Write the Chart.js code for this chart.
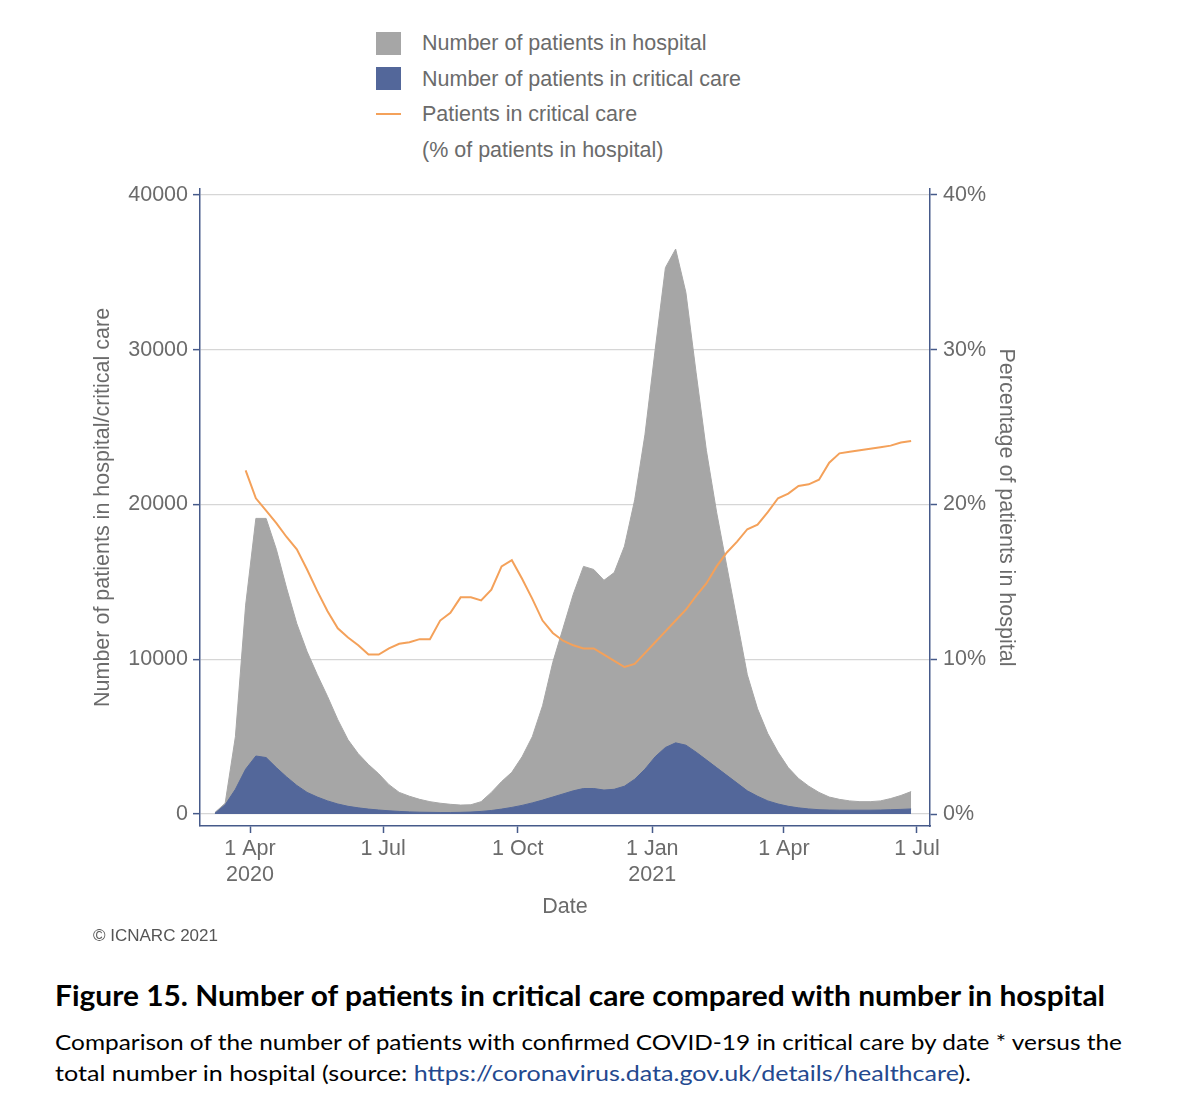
<!DOCTYPE html>
<html>
<head>
<meta charset="utf-8">
<script src="https://cdn.jsdelivr.net/npm/chart.js@4.4.1/dist/chart.umd.min.js"></script>
<style>
  body { margin: 0; background: #fff; width: 1200px; height: 1093px; position: relative; overflow: hidden;
         font-family: "Liberation Sans", Arial, sans-serif; }
  #wrap { position: absolute; left: 0; top: 170px; width: 1200px; height: 790px; }
  .leg { position: absolute; left: 422px; font-size: 21.5px; line-height: 24px; color: #6b6b6b; white-space: nowrap; }
  .sw { position: absolute; left: 376px; width: 25px; height: 23px; }
  .fit { position: absolute; left: 55px; white-space: nowrap; transform-origin: 0 50%; display: inline-block;
         font-family: Lato, "Open Sans", sans-serif; color: #000; }
  #copy { position: absolute; left: 93px; top: 926px; font-size: 17px; line-height: 20px; color: #555; }
  a { color: #24498f; text-decoration: none; }
</style>
</head>
<body>
<!-- legend -->
<div class="sw" style="top:32px;background:#a6a6a6"></div>
<div class="leg" style="top:31px">Number of patients in hospital</div>
<div class="sw" style="top:67px;background:#53679a"></div>
<div class="leg" style="top:67px">Number of patients in critical care</div>
<div style="position:absolute;left:376px;top:113px;width:25px;height:2px;background:#f4a15a"></div>
<div class="leg" style="top:102px">Patients in critical care</div>
<div class="leg" style="top:138px">(% of patients in hospital)</div>

<div id="wrap"><canvas id="chart" width="1200" height="790"></canvas></div>

<div id="copy">© ICNARC 2021</div>
<div class="fit" data-w="1050" style="top:980px;font-size:28px;line-height:30px;font-weight:700">Figure 15. Number of patients in critical care compared with number in hospital</div>
<div class="fit" data-w="1067" style="top:1030px;font-size:22px;line-height:24px">Comparison of the number of patients with confirmed COVID-19 in critical care by date * versus the</div>
<div class="fit" data-w="916" style="top:1061px;font-size:22px;line-height:24px">total number in hospital (source: <a href="#">https://coronavirus.data.gov.uk/details/healthcare</a>).</div>

<script>
/* ------------------- DATA ------------------- */
const weeks = [
  "2020-03-08","2020-03-15","2020-03-22","2020-03-29","2020-04-05","2020-04-12","2020-04-19","2020-04-26",
  "2020-05-03","2020-05-10","2020-05-17","2020-05-24","2020-05-31","2020-06-07","2020-06-14","2020-06-21",
  "2020-06-28","2020-07-05","2020-07-12","2020-07-19","2020-07-26","2020-08-02","2020-08-09","2020-08-16",
  "2020-08-23","2020-08-30","2020-09-06","2020-09-13","2020-09-20","2020-09-27","2020-10-04","2020-10-11",
  "2020-10-18","2020-10-25","2020-11-01","2020-11-08","2020-11-15","2020-11-22","2020-11-29","2020-12-06",
  "2020-12-13","2020-12-20","2020-12-27","2021-01-03","2021-01-10","2021-01-17","2021-01-24","2021-01-31",
  "2021-02-07","2021-02-14","2021-02-21","2021-02-28","2021-03-07","2021-03-14","2021-03-21","2021-03-28",
  "2021-04-04","2021-04-11","2021-04-18","2021-04-25","2021-05-02","2021-05-09","2021-05-16","2021-05-23",
  "2021-05-30","2021-06-06","2021-06-13","2021-06-20","2021-06-27"
];

const hospital = [
  100, 700, 5000, 13500, 19100, 19100, 17100, 14600, 12300, 10500, 9000, 7600, 6100, 4800, 3900, 3200,
  2600, 1900, 1400, 1150, 950, 800, 700, 630, 580, 600, 800, 1400, 2100, 2700, 3700, 5000,
  7000, 9800, 12000, 14200, 16000, 15800, 15100, 15600, 17300, 20300, 24500, 30000, 35300, 36500, 33700, 28500,
  23500, 19500, 16000, 12500, 9000, 6800, 5200, 4000, 3000, 2300, 1800, 1400, 1100, 950, 850, 800,
  800, 850, 1000, 1200, 1450
];

const criticalCare = [
  50, 600, 1600, 2900, 3750, 3650, 3000, 2400, 1850, 1400, 1100, 850, 650, 500, 400, 320,
  260, 210, 170, 140, 120, 110, 100, 100, 110, 130, 170, 230, 320, 430, 560, 720,
  900, 1100, 1300, 1500, 1650, 1650, 1550, 1600, 1800, 2250, 2900, 3700, 4300, 4600, 4450, 4000,
  3500, 3000, 2500, 2000, 1500, 1150, 850, 650, 500, 400, 330, 280, 260, 250, 250, 250,
  250, 260, 280, 300, 330
];

// % of hospital patients in critical care
const pctCritical = [
  null, null, null, 22.2, 20.4, 19.6, 18.8, 17.9, 17.1, 15.8, 14.4, 13.1, 12.0, 11.4, 10.9, 10.3,
  10.3, 10.7, 11.0, 11.1, 11.3, 11.3, 12.5, 13.0, 14.0, 14.0, 13.8, 14.5, 16.0, 16.4, 15.2, 13.9,
  12.5, 11.7, 11.2, 10.9, 10.7, 10.7, 10.3, 9.9, 9.5, 9.7, 10.4, 11.1, 11.8, 12.5, 13.2, 14.1,
  14.9, 16.0, 16.9, 17.6, 18.4, 18.7, 19.5, 20.4, 20.7, 21.2, 21.3, 21.6, 22.7, 23.3, 23.4, 23.5,
  23.6, 23.7, 23.8, 24.0, 24.1
];

const xTickDates = ["2020-04-01", "2020-07-01", "2020-10-01", "2021-01-01", "2021-04-01", "2021-07-01"];
const xTickLabels = [["1 Apr", "2020"], ["1 Jul"], ["1 Oct"], ["1 Jan", "2021"], ["1 Apr"], ["1 Jul"]];
const leftTicks = [0, 10000, 20000, 30000, 40000];
const rightTicks = [0, 10, 20, 30, 40];

/* ------------------- STYLE ------------------- */
const NAVY = "#465a8a";
const LABEL = "#6b6b6b";
const FONT = { family: "'Liberation Sans', Arial, sans-serif", size: 21.5 };

const dayNum = s => (Date.parse(s) - Date.parse("2020-01-01")) / 864e5;
const pts = arr => arr.map((v, i) => ({ x: dayNum(weeks[i]), y: v }));

new Chart(document.getElementById("chart"), {
  type: "line",
  data: {
    datasets: [
      {
        label: "Patients in critical care (% of patients in hospital)",
        data: pts(pctCritical),
        yAxisID: "y1",
        borderColor: "#f4a15a",
        borderWidth: 2,
        pointRadius: 0,
        fill: false,
        order: 0
      },
      {
        label: "Number of patients in critical care",
        data: pts(criticalCare),
        yAxisID: "y",
        borderColor: "#53679a",
        backgroundColor: "#53679a",
        borderWidth: 1,
        pointRadius: 0,
        fill: "origin",
        order: 1
      },
      {
        label: "Number of patients in hospital",
        data: pts(hospital),
        yAxisID: "y",
        borderColor: "#a6a6a6",
        backgroundColor: "#a6a6a6",
        borderWidth: 1,
        pointRadius: 0,
        fill: "origin",
        order: 2
      }
    ]
  },
  options: {
    responsive: false,
    animation: false,
    layout: { padding: { left: 86, right: 177, top: 16, bottom: 36 } },
    plugins: { legend: { display: false }, tooltip: { enabled: false } },
    scales: {
      x: {
        type: "linear",
        position: "bottom",
        min: 56.8,
        max: 555.9,
        afterBuildTicks: s => { s.ticks = xTickDates.map(d => ({ value: dayNum(d) })); },
        afterFit: s => { s.height = 98; },
        ticks: { callback: (v, i) => xTickLabels[i], color: LABEL, font: FONT, padding: 3, maxRotation: 0, autoSkip: false },
        grid: { drawOnChartArea: false, tickLength: 7, tickColor: NAVY, tickWidth: 1.5 },
        border: { color: NAVY, width: 1.5 },
        title: { display: true, text: "Date", color: LABEL, font: FONT, padding: { top: 4, bottom: 4 } }
      },
      y: {
        type: "linear",
        position: "left",
        min: -772,
        max: 40386,
        afterBuildTicks: s => { s.ticks = leftTicks.map(v => ({ value: v })); },
        afterFit: s => { s.width = 114; },
        ticks: { callback: v => String(v), color: LABEL, font: FONT, padding: 5 },
        grid: { color: "#d6d6d6", lineWidth: 1.3, tickLength: 7, tickColor: NAVY, tickWidth: 1.5 },
        border: { color: NAVY, width: 1.5 },
        title: { display: true, text: "Number of patients in hospital/critical care", color: LABEL, font: FONT, padding: { top: 4, bottom: 4 } }
      },
      y1: {
        type: "linear",
        position: "right",
        min: -0.772,
        max: 40.386,
        afterBuildTicks: s => { s.ticks = rightTicks.map(v => ({ value: v })); },
        afterFit: s => { s.width = 93; },
        ticks: { callback: v => v + "%", color: LABEL, font: FONT, padding: 6 },
        grid: { drawOnChartArea: false, tickLength: 7, tickColor: NAVY, tickWidth: 1.5 },
        border: { color: NAVY, width: 1.5 },
        title: { display: true, text: "Percentage of patients in hospital", color: LABEL, font: FONT, padding: { top: 4, bottom: 4 } }
      }
    }
  }
});

// squeeze caption lines to the reference widths (Calibri is narrower than the fonts we have)
document.querySelectorAll(".fit").forEach(el => {
  const w = el.getBoundingClientRect().width;
  el.style.transform = `scaleX(${el.dataset.w / w})`;
});
</script>
</body>
</html>
